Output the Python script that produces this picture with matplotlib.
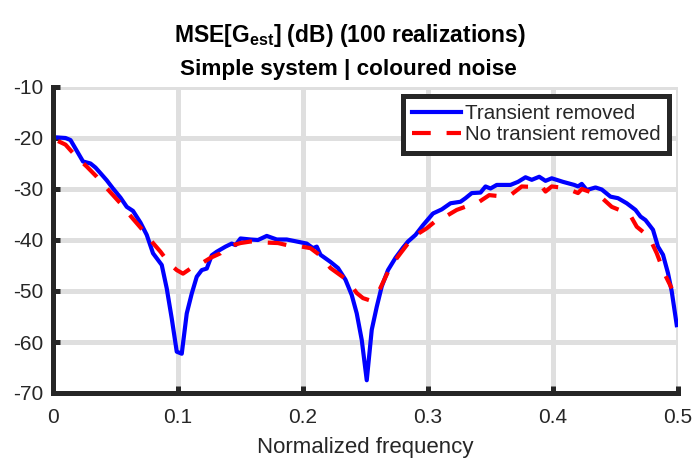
import numpy as np
import matplotlib
matplotlib.use("Agg")
import matplotlib.pyplot as plt

plt.rcParams['font.family'] = ['Liberation Sans', 'DejaVu Sans']
plt.rcParams['mathtext.fontset'] = 'custom'
plt.rcParams['mathtext.rm'] = 'Liberation Sans'
plt.rcParams['mathtext.bf'] = 'Liberation Sans:bold'
plt.rcParams['axes.unicode_minus'] = False

# Transient removed (blue)
f_blue = [0.004, 0.010, 0.014, 0.019, 0.024, 0.030, 0.034, 0.038, 0.043, 0.048,
          0.054, 0.059, 0.064, 0.070, 0.075, 0.080, 0.087, 0.091, 0.095, 0.099,
          0.103, 0.107, 0.111, 0.115, 0.119, 0.123, 0.127, 0.131, 0.138, 0.143,
          0.146, 0.150, 0.158, 0.164, 0.171, 0.179, 0.187, 0.195, 0.203, 0.208,
          0.211, 0.214, 0.222, 0.228, 0.234, 0.239, 0.243, 0.247, 0.251, 0.255,
          0.259, 0.263, 0.268, 0.274, 0.280, 0.284, 0.290, 0.296, 0.304, 0.311,
          0.318, 0.326, 0.330, 0.335, 0.342, 0.346, 0.350, 0.355, 0.366, 0.372,
          0.378, 0.383, 0.389, 0.394, 0.399, 0.408, 0.417, 0.420, 0.423, 0.427,
          0.434, 0.439, 0.446, 0.452, 0.459, 0.466, 0.470, 0.474, 0.480, 0.484,
          0.488, 0.492, 0.495, 0.499]
mse_blue = [-19.9, -20.0, -20.4, -22.5, -24.6, -25.0, -25.8, -26.9, -28.3, -29.9,
            -31.7, -33.5, -34.3, -36.6, -39.0, -42.6, -44.9, -49.5, -55.4, -61.9,
            -62.3, -54.4, -50.5, -47.2, -45.9, -45.6, -43.0, -42.3, -41.3, -40.7,
            -41.0, -39.7, -39.9, -40.0, -39.2, -39.9, -39.9, -40.3, -40.7, -41.6,
            -41.3, -42.9, -44.3, -45.5, -47.8, -50.8, -54.4, -59.6, -67.5, -57.6,
            -53.1, -49.1, -45.9, -43.5, -41.5, -40.3, -39.0, -37.1, -34.8, -34.0,
            -32.8, -32.5, -31.8, -30.8, -30.7, -29.5, -29.9, -29.2, -29.2, -28.6,
            -27.7, -28.2, -27.6, -28.4, -27.9, -28.6, -29.2, -29.5, -29.0, -30.2,
            -29.7, -30.1, -31.5, -31.8, -32.8, -34.1, -35.4, -36.1, -38.0, -41.3,
            -42.9, -46.5, -50.1, -56.7]

# No transient removed (red dashed)
f_red = [0.004, 0.010, 0.014, 0.020, 0.027, 0.035, 0.041, 0.048, 0.055, 0.061,
         0.067, 0.074, 0.080, 0.086, 0.093, 0.099, 0.104, 0.110, 0.118, 0.126,
         0.134, 0.140, 0.150, 0.158, 0.170, 0.180, 0.187, 0.199, 0.206, 0.213,
         0.222, 0.235, 0.243, 0.248, 0.253, 0.260, 0.265, 0.270, 0.278, 0.288,
         0.299, 0.306, 0.314, 0.323, 0.333, 0.341, 0.349, 0.357, 0.366, 0.375,
         0.384, 0.391, 0.394, 0.399, 0.406, 0.414, 0.420, 0.423, 0.430, 0.438,
         0.447, 0.454, 0.461, 0.467, 0.473, 0.478, 0.483, 0.489, 0.495]
mse_red = [-20.6, -21.3, -22.4, -24.0, -25.6, -27.6, -29.3, -31.2, -33.1, -35.0,
           -36.7, -38.7, -40.6, -42.3, -44.6, -45.9, -46.6, -45.6, -44.7, -43.5,
           -42.6, -41.3, -40.6, -40.3, -40.5, -40.6, -41.0, -41.3, -41.6, -42.9,
           -45.5, -47.8, -50.4, -51.4, -51.8, -50.4, -47.8, -45.2, -42.6, -39.4,
           -37.7, -36.3, -35.4, -34.1, -33.2, -32.5, -31.2, -31.4, -31.2, -29.5,
           -29.6, -29.5, -30.5, -29.5, -29.7, -30.2, -30.8, -30.0, -30.6, -31.5,
           -33.5, -34.2, -34.8, -37.4, -38.6, -40.0, -42.6, -46.5, -49.5]

xticks = [0, 0.1, 0.2, 0.3, 0.4, 0.5]
xticklabels = ['0', '0.1', '0.2', '0.3', '0.4', '0.5']
yticks = [-70, -60, -50, -40, -30, -20, -10]

dark = '#262626'
fig = plt.figure(figsize=(6.94, 4.61), dpi=100)
ax = fig.add_axes([53/694, 68/461, 625/694, 306/461])

ax.plot(f_blue, mse_blue, color='#0000ff', lw=3, label='Transient removed')
ax.plot(f_red, mse_red, color='#ff0000', lw=3, ls=(0, (4.5, 3.8)),
        label='No transient removed')

ax.set_xlim(0, 0.5)
ax.set_ylim(-70, -10)
ax.set_xticks(xticks)
ax.set_xticklabels(xticklabels)
ax.set_yticks(yticks)
ax.set_yticklabels([str(v) for v in yticks])

ax.grid(True, color='#dfdfdf', lw=3.6)
ax.set_axisbelow(True)
for side in ['top', 'right']:
    ax.spines[side].set_visible(False)
for side in ['left', 'bottom']:
    ax.spines[side].set_color(dark)
    ax.spines[side].set_linewidth(3.6)
ax.tick_params(direction='in', length=5, width=3.6, color=dark,
               labelsize=15, labelcolor=dark)
ax.tick_params(axis='x', pad=11)
ax.tick_params(axis='y', pad=7)
ax.set_xlabel('Normalized frequency', fontsize=16, color=dark, labelpad=7)

leg = ax.legend(loc='upper right', bbox_to_anchor=(0.9856, 0.97),
                borderaxespad=0, fontsize=14.8, handlelength=2.4,
                handletextpad=0.2, labelspacing=0.1, borderpad=0.4,
                fancybox=False, framealpha=1, edgecolor=dark)
leg.get_frame().set_linewidth(3.6)
for t in leg.get_texts():
    t.set_color(dark)

fig.text(350/694, 1 - 42/461, r'MSE[G$_{\mathbf{est}}$] (dB) (100 realizations)',
         ha='center', va='baseline', fontsize=16.5, fontweight='bold', color='black')
fig.text(348/694, 1 - 75/461, 'Simple system | coloured noise',
         ha='center', va='baseline', fontsize=16.2, fontweight='bold', color='black')

fig.savefig('out.png', dpi=100)
